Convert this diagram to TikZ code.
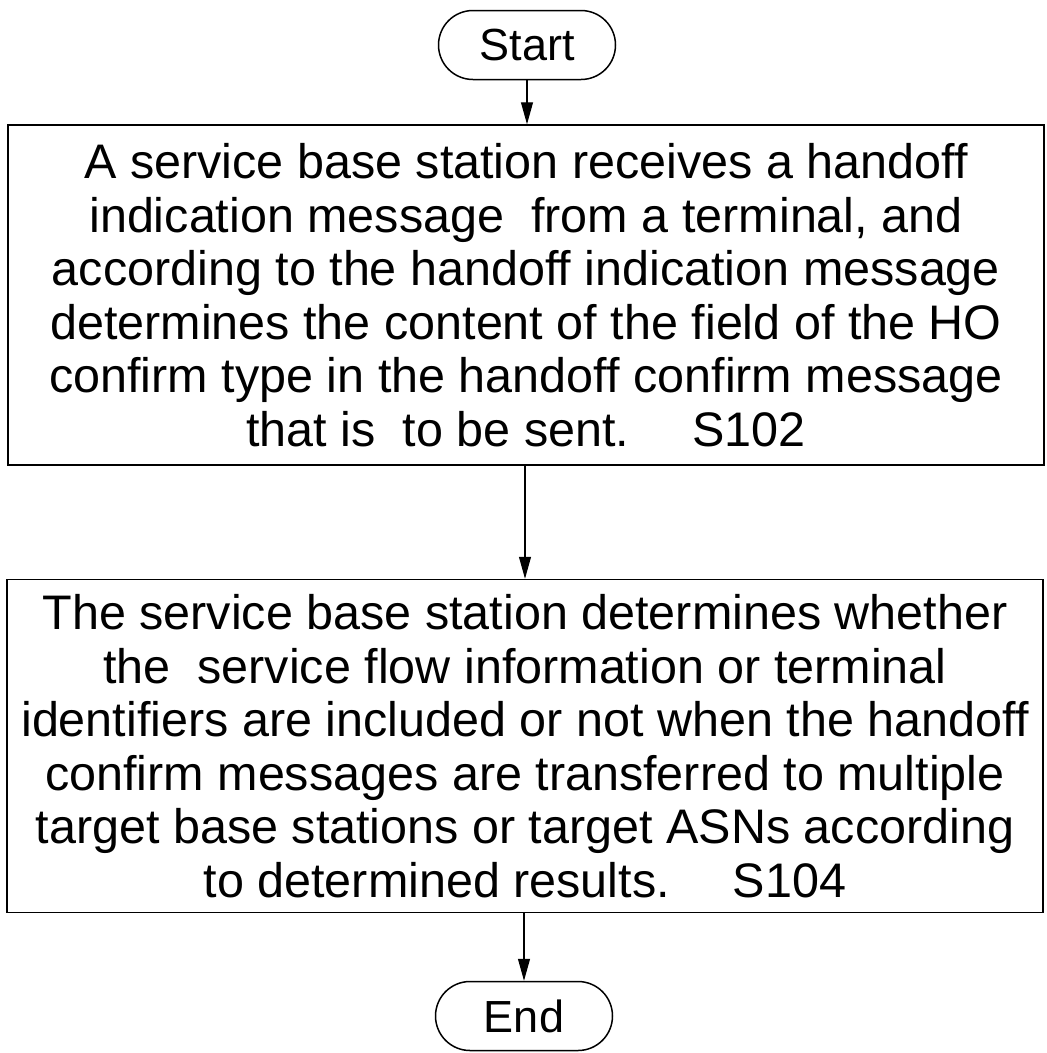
\documentclass[tikz,border=0pt]{standalone}
\usepackage{fontspec}
\setmainfont{Liberation Sans}
\usetikzlibrary{arrows.meta,shapes.misc}
\begin{document}
\begin{tikzpicture}[x=1pt,y=-1pt,
  term/.style={draw,line width=1.5pt,rounded rectangle,minimum width=177pt,minimum height=69pt,
    font=\fontsize{45}{53}\selectfont,inner sep=0pt},
  proc/.style={draw,line width=1.5pt,rectangle,minimum width=1036pt,align=center,
    font=\fontsize{48.5}{53.5}\selectfont,inner sep=0pt},
  arr/.style={line width=1.1pt,-{Triangle[length=22pt,width=12pt]}}]
\useasboundingbox (0,0) rectangle (1047,1053);
\node[term] (start) at (527,45) {Start};
\node[proc,minimum height=340pt] (s102) at (526,295) {A service base station receives a handoff\\
indication message\ \ from a terminal, and\\
according to the handoff indication message\\
determines the content of the field of the HO\\
confirm type in the handoff confirm message\\
that is\ \ to be sent.\hspace{1.3em}S102};
\node[proc,minimum height=333pt] (s104) at (525,746) {The service base station determines whether\\
the\ \ service flow information or terminal\\
identifiers are included or not when the handoff\\
confirm messages are transferred to multiple\\
target base stations or target ASNs according\\
to determined results.\hspace{1.3em}S104};
\node[term] (end) at (524,1016) {End};
\draw[arr] (start.south) -- (start.south |- s102.north);
\draw[arr] (s102.south -| s104.north) -- (s104.north);
\draw[arr] (s104.south -| end.north) -- (end.north);
\end{tikzpicture}
\end{document}
